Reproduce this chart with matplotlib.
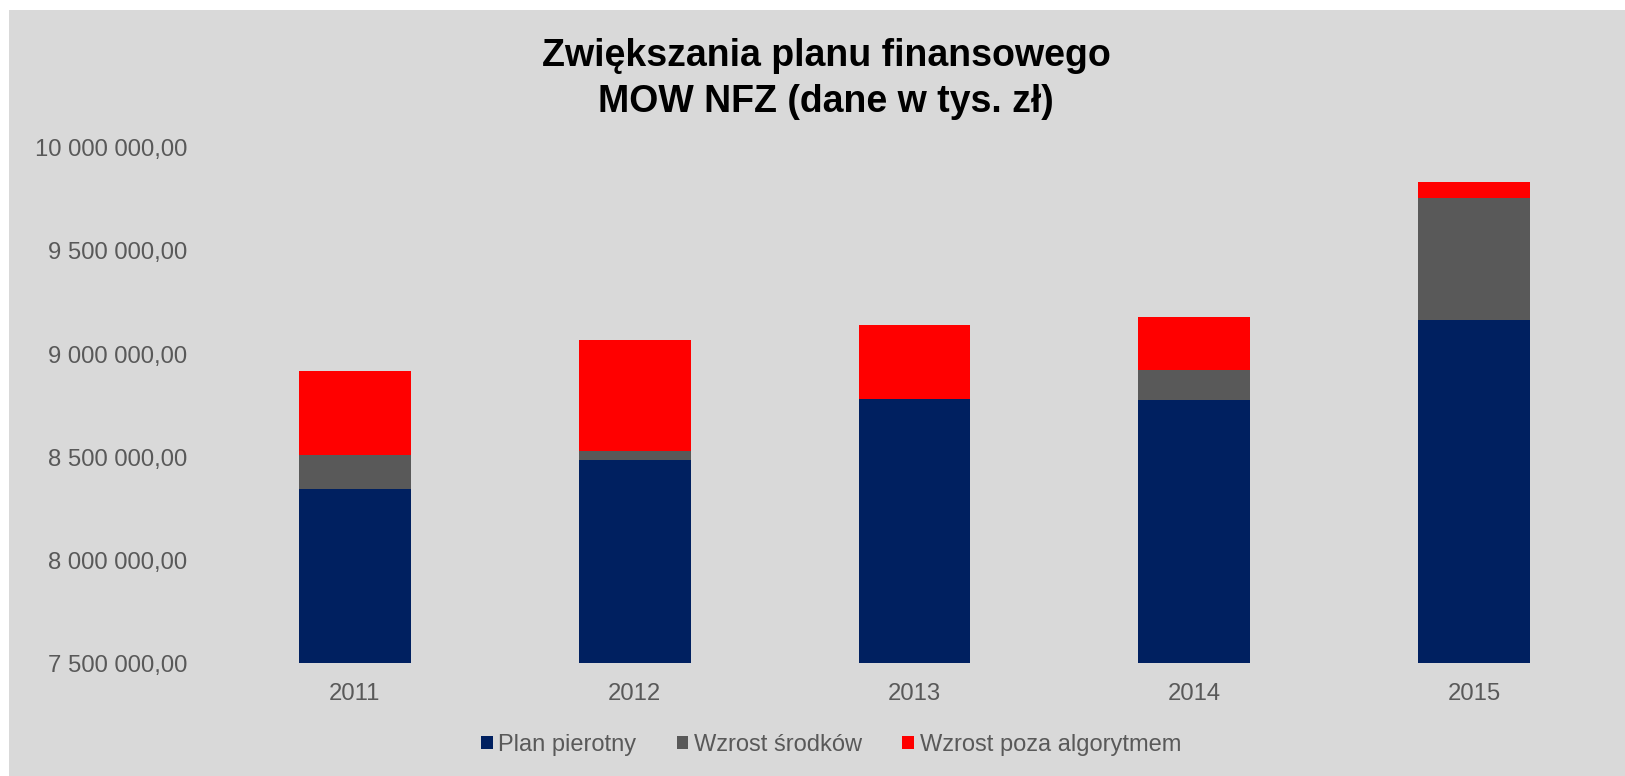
import matplotlib
matplotlib.use("Agg")
import matplotlib.pyplot as plt
from matplotlib.patches import Rectangle
from matplotlib.ticker import FuncFormatter, MultipleLocator
import numpy as np

years = ["2011", "2012", "2013", "2014", "2015"]
plan_pierwotny = [8346700, 8484500, 8780300, 8778400, 9166400]
wzrost_srodkow = [162000, 45100, 0, 144000, 591600]
wzrost_poza = [407400, 538300, 360400, 257100, 74700]
series_names = ["Plan pierotny", "Wzrost środków", "Wzrost poza algorytmem"]
colors = ["#002060", "#595959", "#FF0000"]

title = "Zwiększania planu finansowego\nMOW NFZ (dane w tys. zł)"
txt_color = "#595959"
bg = "#D9D9D9"

plt.rcParams["font.family"] = ["Liberation Sans", "DejaVu Sans"]

fig = plt.figure(figsize=(16.25, 7.76), dpi=100)
fig.patch.set_facecolor("white")
fig.add_artist(Rectangle((9 / 1625, 0), 1 - 9 / 1625, 766 / 776,
                         transform=fig.transFigure, facecolor=bg,
                         edgecolor="none", zorder=-10))

ax = fig.add_axes([215 / 1625, 1 - 663.3 / 776, (1614 - 215) / 1625, (663.3 - 147.8) / 776])
ax.set_facecolor("none")

x = np.arange(len(years))
base = 7500000
b1 = np.array(plan_pierwotny)
b2 = np.array(wzrost_srodkow)
b3 = np.array(wzrost_poza)
width = 0.4
ax.bar(x, b1 - base, width, bottom=base, color=colors[0], label=series_names[0])
ax.bar(x, b2, width, bottom=b1, color=colors[1], label=series_names[1])
ax.bar(x, b3, width, bottom=b1 + b2, color=colors[2], label=series_names[2])

ax.set_xlim(-0.5, len(years) - 0.5)
ax.set_ylim(7500000, 10000000)
ax.yaxis.set_major_locator(MultipleLocator(500000))
ax.yaxis.set_major_formatter(FuncFormatter(
    lambda v, p: f"{v:,.2f}".replace(",", " ").replace(".", ",")))
ax.set_xticks(x)
ax.set_xticklabels(years)
for s in ax.spines.values():
    s.set_visible(False)
ax.tick_params(axis="both", length=0, labelsize=17.2, labelcolor=txt_color)
ax.tick_params(axis="y", pad=20)
ax.tick_params(axis="x", pad=14)

fig.text(826 / 1625, 1 - 79 / 776, title, ha="center", va="center",
         fontsize=27, fontweight="bold", color="black", linespacing=1.34)

handles, labels = ax.get_legend_handles_labels()
leg = fig.legend(handles, labels, loc="center", bbox_to_anchor=(831 / 1625, 31 / 776),
                 ncol=3, frameon=False,
                 prop={"size": 17},
                 handlelength=0.5, handleheight=0.5, handletextpad=0.24,
                 columnspacing=1.7, labelcolor=txt_color)

fig.savefig("out.png", dpi=100, facecolor=fig.get_facecolor())
